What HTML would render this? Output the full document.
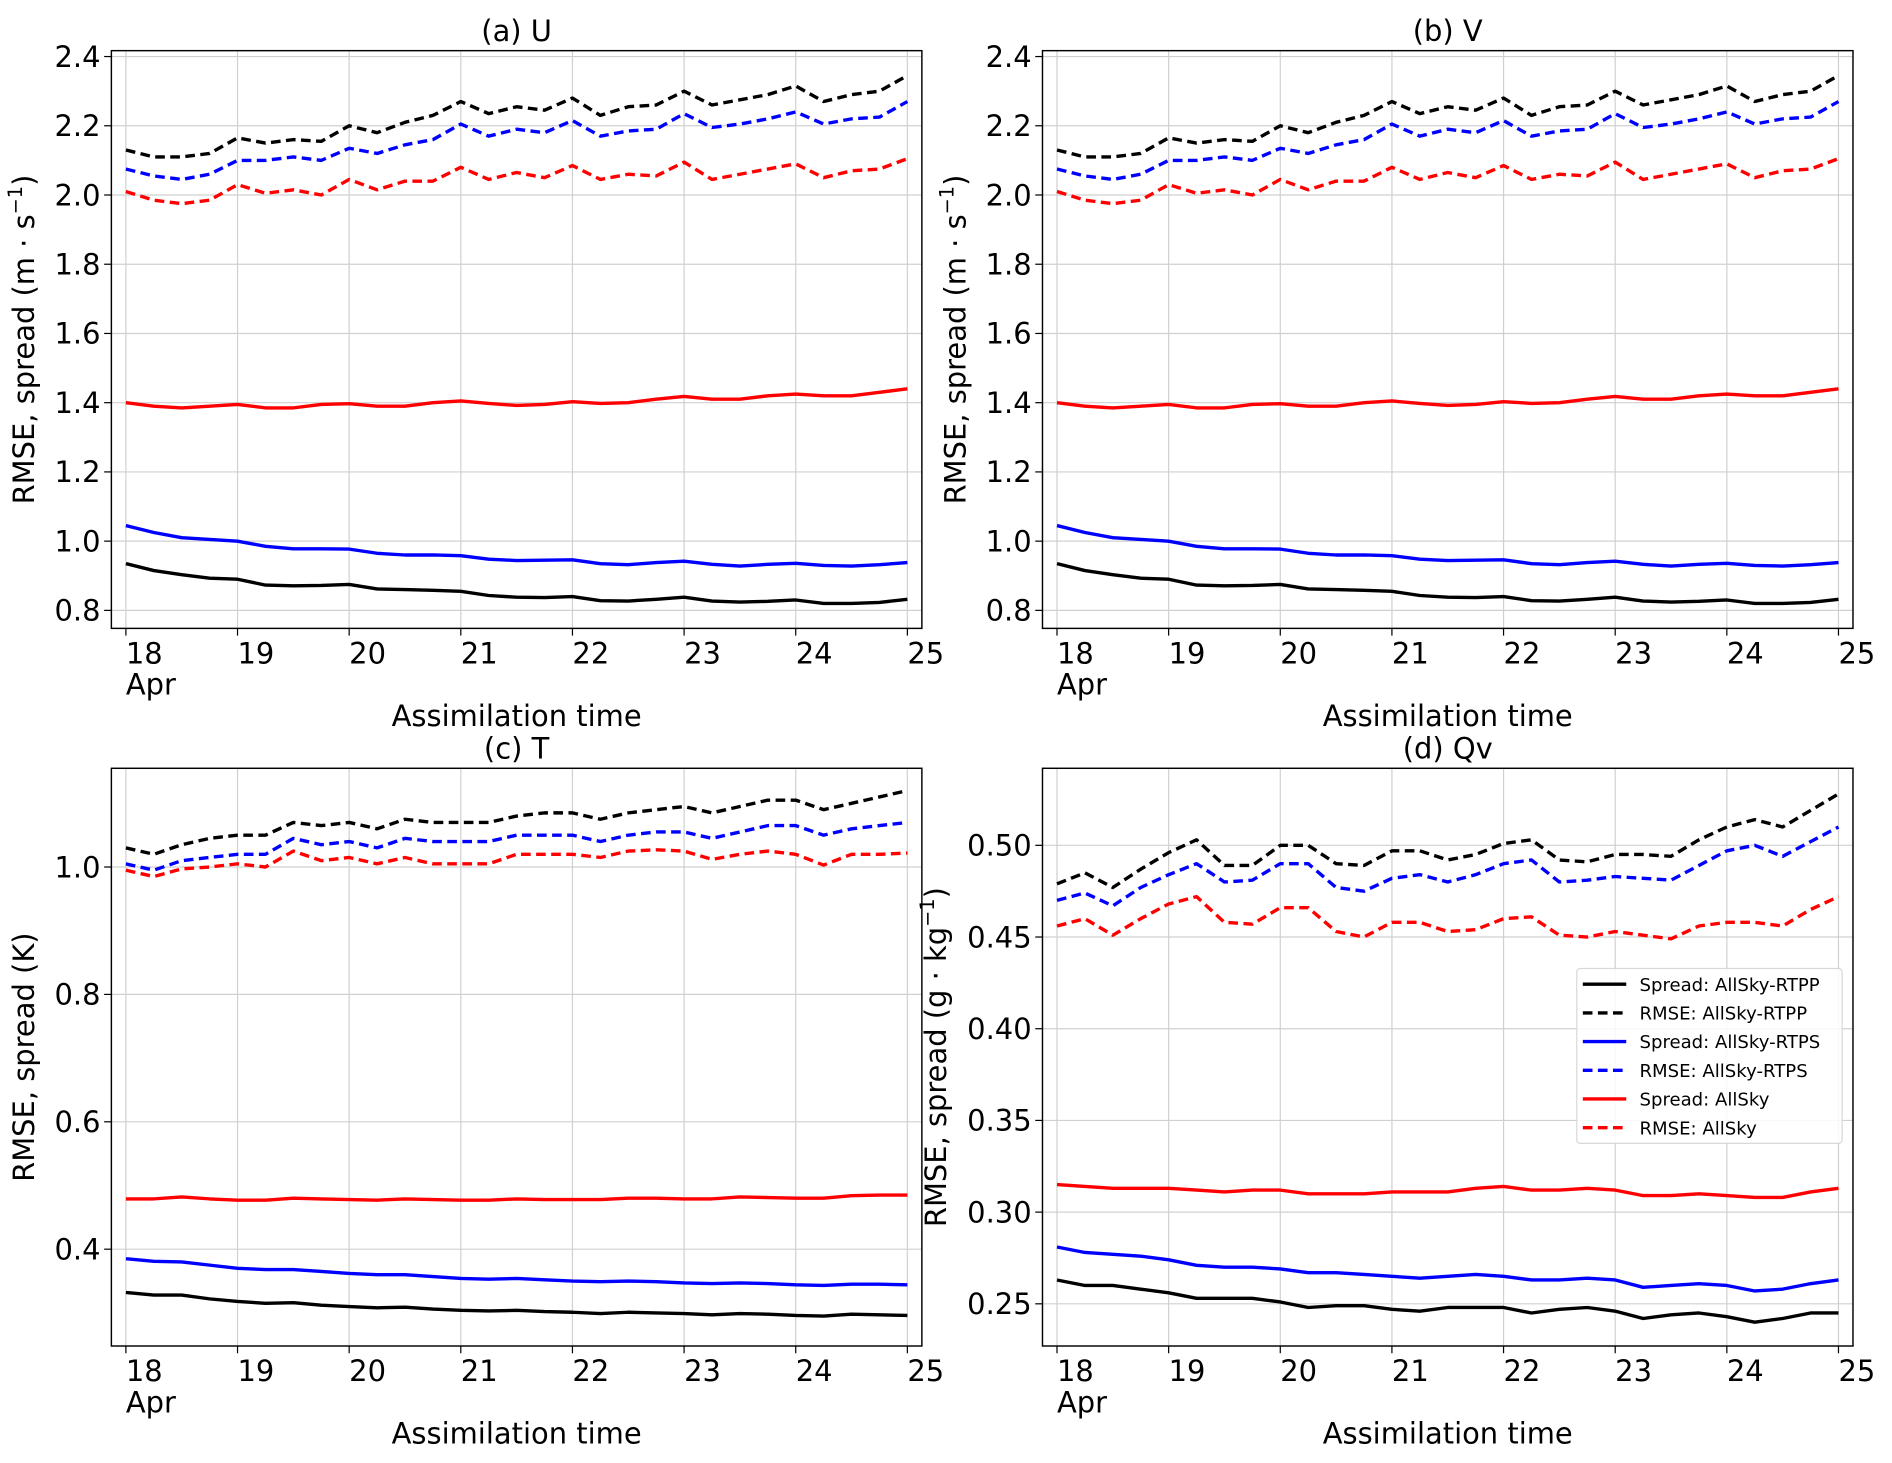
<!DOCTYPE html>
<html><head><meta charset="utf-8"><style>
html,body{margin:0;padding:0;background:#fff;}
svg{display:block;font-family:"DejaVu Sans","Liberation Sans",sans-serif;}
</style></head><body>
<svg id="fig" width="1892" height="1463" viewBox="0 0 1568 1213" xmlns="http://www.w3.org/2000/svg"></svg>
<script>
// shared x ticks (days in April), 6-hourly points from 18 to 25
const xTickLabels = ["18","19","20","21","22","23","24","25"];
// Panel (a) U
const uSpreadRTPP = [0.935,0.915,0.903,0.893,0.89,0.873,0.871,0.872,0.875,0.862,0.86,0.858,0.855,0.843,0.838,0.837,0.84,0.828,0.827,0.832,0.838,0.827,0.824,0.826,0.83,0.82,0.82,0.823,0.832];
const uRmseRTPP = [2.13,2.11,2.11,2.12,2.165,2.15,2.16,2.155,2.20,2.18,2.21,2.23,2.27,2.235,2.255,2.245,2.28,2.23,2.255,2.26,2.30,2.26,2.275,2.29,2.315,2.27,2.29,2.30,2.345];
const uSpreadRTPS = [1.045,1.025,1.01,1.005,1.0,0.985,0.978,0.978,0.977,0.965,0.96,0.96,0.958,0.948,0.944,0.945,0.946,0.935,0.932,0.938,0.942,0.933,0.928,0.933,0.936,0.93,0.928,0.932,0.938];
const uRmseRTPS = [2.075,2.055,2.045,2.06,2.10,2.10,2.11,2.10,2.135,2.12,2.145,2.16,2.205,2.17,2.19,2.18,2.215,2.17,2.185,2.19,2.235,2.195,2.205,2.22,2.24,2.205,2.22,2.225,2.27];
const uSpreadAll = [1.40,1.39,1.385,1.39,1.395,1.385,1.385,1.395,1.397,1.39,1.39,1.40,1.405,1.398,1.392,1.395,1.403,1.398,1.40,1.41,1.418,1.41,1.41,1.42,1.425,1.42,1.42,1.43,1.44];
const uRmseAll = [2.01,1.985,1.975,1.985,2.03,2.005,2.015,2.0,2.045,2.015,2.04,2.04,2.08,2.045,2.065,2.05,2.085,2.045,2.06,2.055,2.095,2.045,2.06,2.075,2.09,2.05,2.07,2.075,2.105];
const uTicks = [0.8,1.0,1.2,1.4,1.6,1.8,2.0,2.2,2.4];
// Panel (b) V
const vSpreadRTPP = uSpreadRTPP.slice();
const vRmseRTPP = uRmseRTPP.slice();
const vSpreadRTPS = uSpreadRTPS.slice();
const vRmseRTPS = uRmseRTPS.slice();
const vSpreadAll = uSpreadAll.slice();
const vRmseAll = uRmseAll.slice();
const vTicks = uTicks.slice();
// Panel (c) T
const tSpreadRTPP = [0.332,0.328,0.328,0.322,0.318,0.315,0.316,0.312,0.31,0.308,0.309,0.306,0.304,0.303,0.304,0.302,0.301,0.299,0.301,0.3,0.299,0.297,0.299,0.298,0.296,0.295,0.298,0.297,0.296];
const tRmseRTPP = [1.03,1.02,1.035,1.045,1.05,1.05,1.07,1.065,1.07,1.06,1.075,1.07,1.07,1.07,1.08,1.085,1.085,1.075,1.085,1.09,1.095,1.085,1.095,1.105,1.105,1.09,1.1,1.11,1.12];
const tSpreadRTPS = [0.385,0.381,0.38,0.375,0.37,0.368,0.368,0.365,0.362,0.36,0.36,0.357,0.354,0.353,0.354,0.352,0.35,0.349,0.35,0.349,0.347,0.346,0.347,0.346,0.344,0.343,0.345,0.345,0.344];
const tRmseRTPS = [1.005,0.995,1.01,1.015,1.02,1.02,1.045,1.035,1.04,1.03,1.045,1.04,1.04,1.04,1.05,1.05,1.05,1.04,1.05,1.055,1.055,1.045,1.055,1.065,1.065,1.05,1.06,1.065,1.07];
const tSpreadAll = [0.479,0.479,0.482,0.479,0.477,0.477,0.48,0.479,0.478,0.477,0.479,0.478,0.477,0.477,0.479,0.478,0.478,0.478,0.48,0.48,0.479,0.479,0.482,0.481,0.48,0.48,0.484,0.485,0.485];
const tRmseAll = [0.995,0.985,0.997,1.0,1.005,1.0,1.025,1.01,1.015,1.005,1.015,1.005,1.005,1.005,1.02,1.02,1.02,1.015,1.025,1.027,1.025,1.012,1.02,1.025,1.02,1.003,1.02,1.02,1.022];
const tTicks = [0.4,0.6,0.8,1.0];
// Panel (d) Qv
const qSpreadRTPP = [0.263,0.26,0.26,0.258,0.256,0.253,0.253,0.253,0.251,0.248,0.249,0.249,0.247,0.246,0.248,0.248,0.248,0.245,0.247,0.248,0.246,0.242,0.244,0.245,0.243,0.24,0.242,0.245,0.245];
const qRmseRTPP = [0.479,0.485,0.477,0.487,0.496,0.503,0.489,0.489,0.50,0.50,0.49,0.489,0.497,0.497,0.492,0.495,0.501,0.503,0.492,0.491,0.495,0.495,0.494,0.503,0.51,0.514,0.51,0.519,0.528];
const qSpreadRTPS = [0.281,0.278,0.277,0.276,0.274,0.271,0.27,0.27,0.269,0.267,0.267,0.266,0.265,0.264,0.265,0.266,0.265,0.263,0.263,0.264,0.263,0.259,0.26,0.261,0.26,0.257,0.258,0.261,0.263];
const qRmseRTPS = [0.47,0.474,0.467,0.477,0.484,0.49,0.48,0.481,0.49,0.49,0.477,0.475,0.482,0.484,0.48,0.484,0.49,0.492,0.48,0.481,0.483,0.482,0.481,0.489,0.497,0.5,0.494,0.502,0.51];
const qSpreadAll = [0.315,0.314,0.313,0.313,0.313,0.312,0.311,0.312,0.312,0.31,0.31,0.31,0.311,0.311,0.311,0.313,0.314,0.312,0.312,0.313,0.312,0.309,0.309,0.31,0.309,0.308,0.308,0.311,0.313];
const qRmseAll = [0.456,0.46,0.451,0.46,0.468,0.472,0.458,0.457,0.466,0.466,0.453,0.45,0.458,0.458,0.453,0.454,0.46,0.461,0.451,0.45,0.453,0.451,0.449,0.456,0.458,0.458,0.456,0.465,0.472];
const qTicks = [0.25,0.30,0.35,0.40,0.45,0.50];
const legendLabels = ["Spread: AllSky-RTPP","RMSE: AllSky-RTPP","Spread: AllSky-RTPS","RMSE: AllSky-RTPS","Spread: AllSky","RMSE: AllSky"];

const NS="http://www.w3.org/2000/svg";
const svg=document.getElementById('fig');
function mk(tag,attrs,parent,text){const e=document.createElementNS(NS,tag);for(const k in attrs)e.setAttribute(k,attrs[k]);if(text!==undefined)e.textContent=text;(parent||svg).appendChild(e);return e;}
const colors=["#000","#000","#0000ff","#0000ff","#ff0000","#ff0000"];
const dashed=[false,true,false,true,false,true];
const FS=24;

function panel(cfg){
  const g=mk('g',{});
  
  
  const L=cfg.left,R=cfg.left+672,T=cfg.top,B=cfg.top+479;
  const xmin=17.87,xmax=25.13;
  const X=v=>L+(v-xmin)/(xmax-xmin)*(R-L);
  const Y=v=>B-(v-cfg.ymin)/(cfg.ymax-cfg.ymin)*(B-T);
  xTickLabels.forEach((lab,i)=>{
    const d=18+i,x=X(d);
    const gl=mk('line',{x1:x,x2:x,y1:T,y2:B,stroke:'#d0d0d0','stroke-width':1},g);
    
    
    mk('line',{x1:x,x2:x,y1:B,y2:B+6,stroke:'#000','stroke-width':1},g);
    const t=mk('text',{x:x,y:B+29,'font-size':FS},g,lab);
    
    
  });
  const a=mk('text',{x:X(18),y:B+55,'font-size':FS},g,'Apr');
  
  
  cfg.ticks.forEach(v=>{
    const y=Y(v);
    const gl=mk('line',{x1:L,x2:R,y1:y,y2:y,stroke:'#d0d0d0','stroke-width':1},g);
    
    
    mk('line',{x1:L-6,x2:L,y1:y,y2:y,stroke:'#000','stroke-width':1},g);
    const t=mk('text',{x:L-9,y:y+8.5,'font-size':FS,'text-anchor':'end'},g,v.toFixed(cfg.dec));
    
    
  });
  cfg.series.forEach((s,k)=>{
    const pts=s.map((v,i)=>X(18+i*0.25).toFixed(2)+','+Y(v).toFixed(2)).join(' ');
    const p=mk('polyline',{points:pts,fill:'none',stroke:colors[k],'stroke-width':2.8,'stroke-linejoin':'round','stroke-dasharray':dashed[k]?'8,4.5':'none'},g);
    
    
  });
  const fr=mk('rect',{x:L,y:T,width:R-L,height:B-T,fill:'none',stroke:'#000','stroke-width':1.2},g);
  
  
  const ti=mk('text',{x:(L+R)/2,y:T-8,'font-size':FS,'text-anchor':'middle'},g,cfg.title);
  
  
  const xl=mk('text',{x:(L+R)/2,y:B+81,'font-size':FS,'text-anchor':'middle'},g,'Assimilation time');
  
  
  const yl=mk('text',{x:0,y:0,'font-size':FS,'text-anchor':'middle',transform:`translate(${L-cfg.ylOff},${(T+B)/2}) rotate(-90)`},g);
  
  
  yl.innerHTML=cfg.ylabel;
  return {X,Y,L,R,T,B,g};
}
const s1='RMSE, spread (m · s<tspan dy="-10" font-size="16">−1</tspan><tspan dy="10">)</tspan>';
panel({name:'panel-a-u',left:92,top:42,ymin:0.748,ymax:2.417,ticks:uTicks,dec:1,ylOff:64,title:'(a) U',ylabel:s1,series:[uSpreadRTPP,uRmseRTPP,uSpreadRTPS,uRmseRTPS,uSpreadAll,uRmseAll]});
panel({name:'panel-b-v',left:864,top:42,ymin:0.748,ymax:2.417,ticks:vTicks,dec:1,ylOff:64,title:'(b) V',ylabel:s1,series:[vSpreadRTPP,vRmseRTPP,vSpreadRTPS,vRmseRTPS,vSpreadAll,vRmseAll]});
panel({name:'panel-c-t',left:92,top:637,ymin:0.248,ymax:1.155,ticks:tTicks,dec:1,ylOff:64,title:'(c) T',ylabel:'RMSE, spread (K)',series:[tSpreadRTPP,tRmseRTPP,tSpreadRTPS,tRmseRTPS,tSpreadAll,tRmseAll]});
panel({name:'panel-d-qv',left:864,top:637,ymin:0.227,ymax:0.542,ticks:qTicks,dec:2,ylOff:80,title:'(d) Qv',ylabel:'RMSE, spread (g · kg<tspan dy="-10" font-size="16">−1</tspan><tspan dy="10">)</tspan>',series:[qSpreadRTPP,qRmseRTPP,qSpreadRTPS,qRmseRTPS,qSpreadAll,qRmseAll]});
const lg=mk('g',{});


mk('rect',{x:1307,y:803,width:220,height:145,rx:3,fill:'#fff','fill-opacity':0.85,stroke:'#d8d8d8','stroke-width':1},lg);
legendLabels.forEach((lab,k)=>{
  const y=816+k*23.8;
  const e=mk('g',{},lg);
  
  
  mk('line',{x1:1312,x2:1348,y1:y,y2:y,stroke:colors[k],'stroke-width':2.8,'stroke-dasharray':dashed[k]?'8,4.5':'none'},e);
  mk('text',{x:1359,y:y+5.5,'font-size':15},e,lab);
});
</script>
</body></html>
